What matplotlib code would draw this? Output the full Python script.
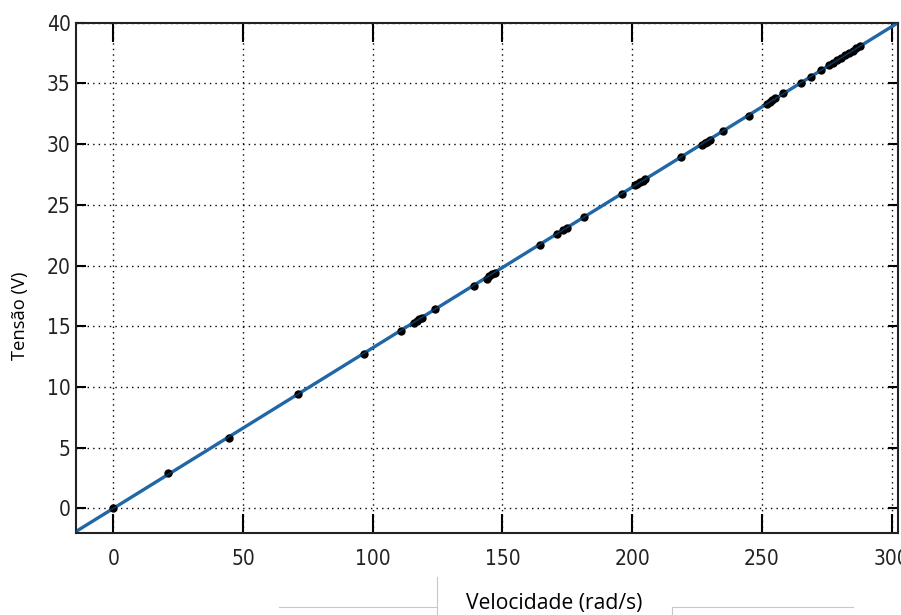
import matplotlib
matplotlib.use("Agg")
import matplotlib.pyplot as plt
from matplotlib import font_manager as fm
from matplotlib.lines import Line2D

# ---- data ----
vel = [0, 21, 44.5, 71, 96.5, 111, 116, 117, 118, 119, 124, 139, 144, 145, 146, 147,
       164.5, 171, 173.5, 175, 181.5, 196, 201, 202, 203, 204, 205, 219, 227, 228, 229,
       230, 235, 245, 252, 253, 254, 255, 258, 265, 269, 273, 276, 277.5, 279, 280.5,
       282, 283.5, 285, 286.5, 288]
tens = [0, 2.9, 5.8, 9.4, 12.7, 14.6, 15.3, 15.4, 15.6, 15.7, 16.4, 18.3, 18.9, 19.1,
        19.3, 19.4, 21.7, 22.6, 22.9, 23.1, 24.0, 25.9, 26.6, 26.7, 26.9, 27.0, 27.1,
        28.9, 29.9, 30.1, 30.2, 30.3, 31.1, 32.3, 33.3, 33.5, 33.6, 33.8, 34.2, 35.0,
        35.5, 36.1, 36.5, 36.7, 36.9, 37.1, 37.3, 37.5, 37.7, 37.9, 38.1]
fit_x = [-14.4, 302.5]
fit_y = [-1.9, 40.0]
xticks = [0, 50, 100, 150, 200, 250, 300]
yticks = [0, 5, 10, 15, 20, 25, 30, 35, 40]

names = {f.name for f in fm.fontManager.ttflist}
label_font = [n for n in ["Open Sans", "Noto Sans", "DejaVu Sans"] if n in names][0]
cond = [f for f in fm.fontManager.ttflist if "Narrow" in f.name or "Condensed" in f.name
        or f.stretch in ("condensed", "semi-condensed", "extra-condensed")]
tick_font = cond[0].name if cond else "DejaVu Sans"
tick_stretch = cond[0].stretch if cond else "normal"

fig = plt.figure(figsize=(9.01, 6.15), dpi=100)
ax = fig.add_axes([76 / 901, 1 - 532.7 / 615, (898 - 76) / 901, (532.7 - 22.7) / 615])

ax.plot(fit_x, fit_y, color="#1f67a6", lw=2.4, zorder=2)
ax.plot(vel, tens, linestyle="none", marker="o", ms=5, color="black", zorder=3)
ax.plot(fit_x, fit_y, color="#1f67a6", lw=1.2, alpha=0.5, zorder=4)

ax.set_xlim(-14.4, 302.5)
ax.set_ylim(-2, 40)
ax.set_xticks(xticks)
ax.set_yticks(yticks)
ax.grid(True, color="black", linestyle=(0, (1, 3)), linewidth=1.0)
for s in ax.spines.values():
    s.set_linewidth(1.5)
    s.set_color("#222222")
ax.tick_params(axis="x", direction="in", length=14, width=1.5, top=True, pad=12,
               labelsize=15)
ax.tick_params(axis="y", direction="in", length=7, width=1.5, right=True, pad=4,
               labelsize=15)
for lab in ax.get_xticklabels() + ax.get_yticklabels():
    lab.set_fontfamily(tick_font)
    lab.set_fontstretch(tick_stretch)
    lab.set_color("#222222")

fig.text(20 / 901, 1 - 316 / 615, "Tensão (V)", rotation=90, ha="center", va="center",
         fontsize=13.2, family=label_font, color="black")
fig.text(554 / 901, 1 - 603 / 615, "Velocidade (rad/s)", ha="center", va="center",
         fontsize=15.2, family=label_font, color="black")

# thin grey box edges from the reference image
g = "#c8c8c8"
fig.add_artist(Line2D([279 / 901, 437 / 901], [1 - 606.5 / 615] * 2, color=g, lw=0.8))
fig.add_artist(Line2D([437 / 901] * 2, [1 - 577 / 615, 0], color=g, lw=0.8))
fig.add_artist(Line2D([672 / 901, 853 / 901], [1 - 606.5 / 615] * 2, color=g, lw=0.8))
fig.add_artist(Line2D([672 / 901] * 2, [1 - 606.5 / 615, 0], color=g, lw=0.8))

fig.savefig("out.png", dpi=100)
